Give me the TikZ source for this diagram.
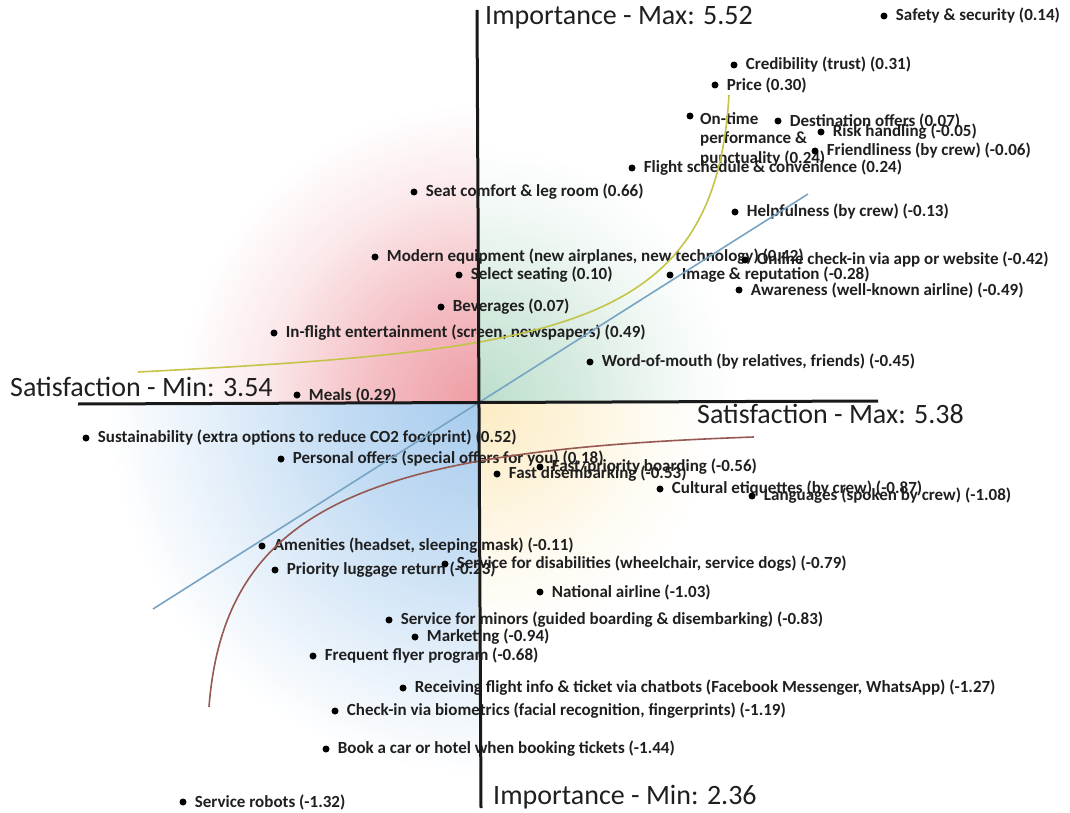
\documentclass[tikz,border=0pt]{standalone}
\usepackage{fontspec}
\setmainfont{Carlito}
\definecolor{ulfill}{RGB}{238,156,164}
\definecolor{urfill}{RGB}{188,222,204}
\definecolor{llfill}{RGB}{168,204,238}
\definecolor{lrfill}{RGB}{252,236,196}
\definecolor{trendgreen}{RGB}{196,196,72}
\definecolor{trendblue}{RGB}{120,164,196}
\definecolor{trendbrown}{RGB}{150,88,80}
% soft radial fades, one per quadrant
\pgfdeclareradialshading{ulfade}{\pgfpointorigin}{color(0bp)=(ulfill); color(9bp)=(ulfill!65!white); color(18bp)=(ulfill!22!white); color(25bp)=(white); color(50bp)=(white)}
\pgfdeclareradialshading{urfade}{\pgfpointorigin}{color(0bp)=(urfill); color(9bp)=(urfill!65!white); color(18bp)=(urfill!22!white); color(25bp)=(white); color(50bp)=(white)}
\pgfdeclareradialshading{llfade}{\pgfpointorigin}{color(0bp)=(llfill); color(9bp)=(llfill!70!white); color(18bp)=(llfill!30!white); color(25bp)=(white); color(50bp)=(white)}
\pgfdeclareradialshading{lrfade}{\pgfpointorigin}{color(0bp)=(lrfill); color(9bp)=(lrfill!65!white); color(18bp)=(lrfill!22!white); color(25bp)=(white); color(50bp)=(white)}
\newcommand\ratedpoint[3]{%
  \node[dot] (#1) at (#2) {};
  \node[lbl] (#1-t) at ([xshift=8pt]#1.east) {#3};}
\begin{document}
\begin{tikzpicture}[x=1pt,y=-1pt,
  dot/.style={circle,fill=black,inner sep=0pt,minimum size=7pt},
  lbl/.style={font=\fontsize{17}{19.5}\selectfont\bfseries,inner sep=0pt,anchor=west,text=black!88},
  axlbl/.style={font=\fontsize{28}{32}\selectfont,inner sep=0pt,text=black!88},
  axisline/.style={line width=3pt,black!90},
  trend/.style={line width=1.6pt},
]
\useasboundingbox (0,0) rectangle (1070,813);
\fill[white] (0,0) rectangle (1070,813);
\coordinate (O) at (478,404);

% quadrant colour fades around the centre
\begin{scope}
  \clip (O) rectangle (0,0);
  \shade[shading=ulfade] (O) circle (300pt);
\end{scope}
\begin{scope}
  \clip (O) rectangle (1070,0);
  \shade[shading=urfade] (O) circle (260pt);
\end{scope}
\begin{scope}
  \clip (O) rectangle (0,813);
  \shade[shading=llfade] (O) circle (370pt);
\end{scope}
\begin{scope}
  \clip (O) rectangle (1070,813);
  \shade[shading=lrfade] (O) circle (240pt);
\end{scope}

% rated attributes
\ratedpoint{safety}{884,16}{Safety \& security (0.14)}
\ratedpoint{cred}{734,65}{Credibility (trust) (0.31)}
\ratedpoint{price}{715,85}{Price (0.30)}
\node[dot] (ontime) at (690,116) {};
\node[lbl,align=left,anchor=north west] (ontime-t) at (700,112) {On-time\\performance \&\\punctuality (0.24)};
\ratedpoint{dest}{778,121}{Destination offers (0.07)}
\ratedpoint{risk}{821,132}{Risk handling (-0.05)}
\ratedpoint{friend}{815,151}{Friendliness (by crew) (-0.06)}
\ratedpoint{sched}{632,168}{Flight schedule \& convenience (0.24)}
\ratedpoint{seat}{414,192}{Seat comfort \& leg room (0.66)}
\ratedpoint{help}{735,212}{Helpfulness (by crew) (-0.13)}
\ratedpoint{modern}{375,257}{Modern equipment (new airplanes, new technology) (0.42)}
\ratedpoint{online}{745,260}{Online check-in via app or website (-0.42)}
\ratedpoint{select}{459,275}{Select seating (0.10)}
\ratedpoint{image}{670,275}{Image \& reputation (-0.28)}
\ratedpoint{aware}{739,290}{Awareness (well-known airline) (-0.49)}
\ratedpoint{bev}{441,307}{Beverages (0.07)}
\ratedpoint{ife}{274,333}{In-flight entertainment (screen, newspapers) (0.49)}
\ratedpoint{wom}{590,362}{Word-of-mouth (by relatives, friends) (-0.45)}
\ratedpoint{meals}{297,395}{Meals (0.29)}
\ratedpoint{sust}{86,438}{Sustainability (extra options to reduce CO2 footprint) (0.52)}
\ratedpoint{pers}{281,459}{Personal offers (special offers for you) (0.18)}
\ratedpoint{fastb}{540,467}{Fast/priority boarding (-0.56)}
\ratedpoint{fastd}{497,474}{Fast disembarking (-0.53)}
\ratedpoint{cult}{660,489}{Cultural etiquettes (by crew) (-0.87)}
\ratedpoint{lang}{752,496}{Languages (spoken by crew) (-1.08)}
\ratedpoint{amen}{262,546}{Amenities (headset, sleeping mask) (-0.11)}
\ratedpoint{disab}{445,564}{Service for disabilities (wheelchair, service dogs) (-0.79)}
\ratedpoint{lugg}{275,570}{Priority luggage return (-0.23)}
\ratedpoint{natl}{540,592}{National airline (-1.03)}
\ratedpoint{minor}{389,620}{Service for minors (guided boarding \& disembarking) (-0.83)}
\ratedpoint{mkt}{415,637}{Marketing (-0.94)}
\ratedpoint{ffp}{313,656}{Frequent flyer program (-0.68)}
\ratedpoint{chat}{403,688}{Receiving flight info \& ticket via chatbots (Facebook Messenger, WhatsApp) (-1.27)}
\ratedpoint{bio}{335,711}{Check-in via biometrics (facial recognition, fingerprints) (-1.19)}
\ratedpoint{book}{326,749}{Book a car or hotel when booking tickets (-1.44)}
\ratedpoint{robot}{183,802}{Service robots (-1.32)}

% trend curves
\coordinate (g1) at (138,372);
\coordinate (g2) at (729,95);
\draw[trend,trendgreen] (g1) .. controls (560,350) and (715,330) .. (g2);
\coordinate (b1) at (153,609);
\coordinate (b2) at (808,194);
\draw[trend,trendblue] (b1) -- (b2);
\coordinate (r1) at (209,707);
\coordinate (r2) at (754,437);
\draw[trend,trendbrown] (r1) .. controls (225,500) and (380,450) .. (r2);

% axes
\coordinate (vtop) at (477,10);
\coordinate (vbot) at (481,808);
\coordinate (hleft) at (78,404);
\coordinate (hright) at (878,401);
\draw[axisline] (vtop) -- (vbot);
\draw[axisline] (hleft) -- (hright);

\node[axlbl,anchor=west] (imax) at (485,18) {Importance - Max: 5.52};
\node[axlbl,anchor=west] (imin) at (493,797) {Importance - Min: 2.36};
\node[axlbl,anchor=west] (smin) at (10,387) {Satisfaction - Min: 3.54};
\node[axlbl,anchor=west] (smax) at (697,414) {Satisfaction - Max: 5.38};
\end{tikzpicture}
\end{document}
